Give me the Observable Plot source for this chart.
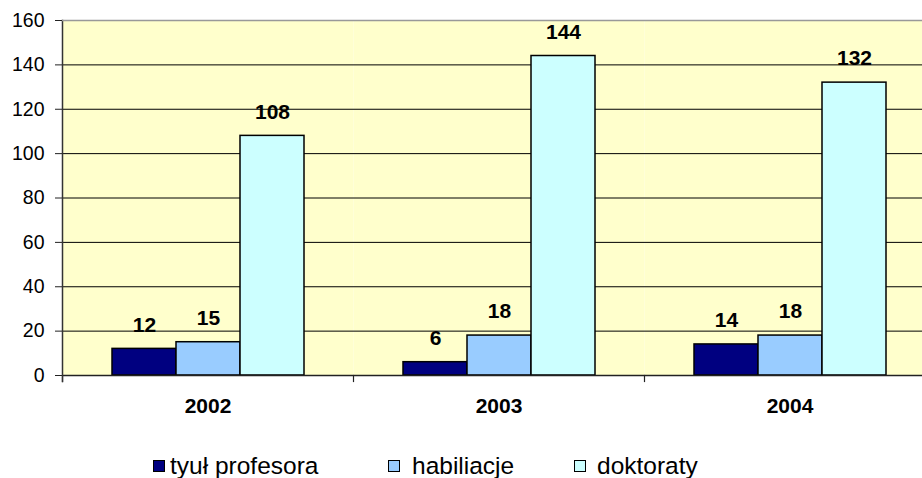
<!DOCTYPE html>
<html>
<head>
<meta charset="utf-8">
<script src="https://cdn.jsdelivr.net/npm/d3@7"></script>
<script src="https://cdn.jsdelivr.net/npm/@observablehq/plot@0.6"></script>
<style>
  html, body { margin: 0; padding: 0; background: #fff; overflow: hidden; width: 922px; height: 478px; }
  #wrap { position: relative; width: 922px; height: 478px; overflow: hidden; font-family: "Liberation Sans", Arial, sans-serif; }
  #chart { width: 922px; overflow: hidden; }
  #chart svg { display: block; max-width: none; }
  .leg { position: absolute; font-size: 24.5px; line-height: 24px; color: #000; white-space: nowrap; }
  .sw { position: absolute; width: 12px; height: 12px; box-sizing: border-box; border: 1px solid #000; }
</style>
</head>
<body>
<div id="wrap">
  <div id="chart"></div>
  <div id="legend"></div>
</div>
<script>
const years = ["2002", "2003", "2004"];
const seriesNames = ["tyuł profesora", "habiliacje", "doktoraty"];
const profesor = [12, 6, 14];
const habiliacje = [15, 18, 18];
const doktoraty = [108, 144, 132];
const seriesColors = ["#000080", "#99CCFF", "#CCFFFF"];
const yTicks = [0, 20, 40, 60, 80, 100, 120, 140, 160];
const gridTicks = [20, 40, 60, 80, 100, 120, 140];

const seriesValues = [profesor, habiliacje, doktoraty];
const data = [];
years.forEach((yr, i) => {
  seriesNames.forEach((s, j) => data.push({year: yr, series: s, value: seriesValues[j][i]}));
});

const chart = Plot.plot({
  width: 936,
  height: 430,
  marginLeft: 61,
  marginRight: 0,
  marginTop: 20,
  marginBottom: 55,
  style: {fontFamily: "'Liberation Sans', Arial, sans-serif", fontSize: "19.5px", background: "white", color: "black", maxWidth: "none"},
  fx: {domain: years, padding: 0, label: null},
  x: {domain: seriesNames, paddingInner: 0, paddingOuter: 0.744, axis: null},
  y: {domain: [0, 160], label: null},
  color: {domain: seriesNames, range: seriesColors},
  marks: [
    Plot.frame({fill: "#FFFFCC", stroke: "none"}),
    Plot.gridY(gridTicks, {stroke: "#000", strokeOpacity: 1, strokeWidth: 1}),
    Plot.barY(data, {fx: "year", x: "series", y: "value", fill: "series", stroke: "#000", strokeWidth: 1.5}),
    Plot.ruleY([0], {stroke: "#222", strokeWidth: 1.5}),
    Plot.frame({anchor: "left", insetTop: 355, insetBottom: -6, stroke: "#222", strokeWidth: 1.2}),
    Plot.frame({anchor: "left", facet: "super", insetBottom: -6, stroke: "#333", strokeWidth: 1.5}),
    Plot.frame({anchor: "top", facet: "super", stroke: "#999", strokeWidth: 1.5}),
    Plot.text(data, {fx: "year", x: "series", y: "value", text: d => String(d.value), dy: -24, fontWeight: "bold", fontSize: 21, fill: "#000"}),
    Plot.axisY(yTicks, {tickSize: 7, tickPadding: 11, fontSize: 19.5, label: null, stroke: "#222"}),
    Plot.axisFx({anchor: "bottom", tickSize: 0, tickPadding: 23, fontSize: 21, fontWeight: "bold", label: null})
  ]
});
document.getElementById("chart").appendChild(chart);

// Legend (HTML, below the SVG)
const legend = document.getElementById("legend");
const legSwatchX = [153, 388, 574];
const legTextX = [170, 412, 597];
seriesNames.forEach((name, i) => {
  const sw = document.createElement("div");
  sw.className = "sw";
  sw.style.left = legSwatchX[i] + "px";
  sw.style.top = "460px";
  sw.style.background = seriesColors[i];
  legend.appendChild(sw);
  const t = document.createElement("div");
  t.className = "leg";
  t.style.left = legTextX[i] + "px";
  t.style.top = "454px";
  t.textContent = name;
  legend.appendChild(t);
});
</script>
</body>
</html>
